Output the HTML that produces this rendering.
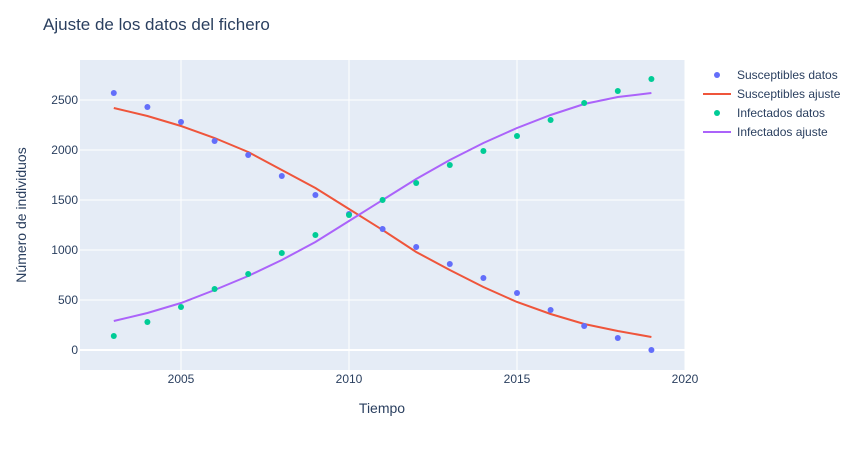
<!DOCTYPE html>
<html><head><meta charset="utf-8"><style>
body{margin:0;background:#fff;font-family:"Liberation Sans",Arial,sans-serif;}
svg text{font-family:"Liberation Sans",Arial,sans-serif;fill:#2a3f5f;}
</style></head><body>
<svg id="chart" width="863" height="450">
<rect x="80" y="60" width="605" height="310" fill="#e5ecf6"/>
<g id="grid"></g><g id="marks"></g><g id="axes"></g>
<text x="43" y="30" font-size="17">Ajuste de los datos del fichero</text>
<text x="382" y="413" font-size="14" text-anchor="middle">Tiempo</text>
<text transform="translate(26,215) rotate(-90)" font-size="14" text-anchor="middle">Número de individuos</text>
<g id="legend"></g>
</svg>
<script>
const years=[2003,2004,2005,2006,2007,2008,2009,2010,2011,2012,2013,2014,2015,2016,2017,2018,2019];
const susDatos=[2570,2430,2280,2090,1950,1740,1550,1360,1210,1030,860,720,570,400,240,120,0];
const susAjuste=[2420,2340,2240,2120,1980,1800,1620,1410,1200,980,800,630,480,360,260,190,130];
const infDatos=[140,280,430,610,760,970,1150,1350,1500,1670,1850,1990,2140,2300,2470,2590,2710];
const infAjuste=[290,370,470,600,740,900,1080,1290,1500,1710,1900,2070,2220,2350,2460,2530,2570];
const xTicks=[2005,2010,2015,2020];
const yTicks=[0,500,1000,1500,2000,2500];
const NS='http://www.w3.org/2000/svg';
function X(v){return 181+(v-2005)*33.6;}
function Y(v){return 350-v*0.1;}
function mk(t,a,p){const e=document.createElementNS(NS,t);for(const k in a)e.setAttribute(k,a[k]);p.appendChild(e);return e;}
const grid=document.getElementById('grid'),axes=document.getElementById('axes'),marks=document.getElementById('marks'),legend=document.getElementById('legend');
xTicks.forEach(v=>{
 const l=mk('line',{x1:X(v),x2:X(v),y1:60,y2:370,stroke:'#fff','stroke-width':1},grid);
 
 
 const t=mk('text',{x:X(v),y:383,'font-size':12,'text-anchor':'middle'},axes);t.textContent=v;
 
 
});
yTicks.forEach(v=>{
 const l=mk('line',{x1:80,x2:685,y1:Y(v),y2:Y(v),stroke:'#fff','stroke-width':v===0?2:1},grid);
 
 
 const t=mk('text',{x:78,y:Y(v)+4,'font-size':12,'text-anchor':'end'},axes);t.textContent=v;
 
 
});
function line(vals,color,name){
 const p=mk('path',{d:vals.map((v,i)=>(i?'L':'M')+X(years[i])+','+Y(v)).join(''),fill:'none',stroke:color,'stroke-width':2},marks);
 
 
}
function pts(vals,color,name){
 vals.forEach((v,i)=>{const c=mk('circle',{cx:X(years[i]),cy:Y(v),r:3,fill:color},marks);
 
 });
}
line(susAjuste,'#EF553B','susceptibles-ajuste-line');
line(infAjuste,'#ab63fa','infectados-ajuste-line');
pts(susDatos,'#636efa','susceptibles-point');
pts(infDatos,'#00cc96','infectados-point');
const items=[['Susceptibles datos','#636efa','p'],['Susceptibles ajuste','#EF553B','l'],['Infectados datos','#00cc96','p'],['Infectados ajuste','#ab63fa','l']];
items.forEach((it,i)=>{
 const y=75+i*19;
 const g=mk('g',{},legend);
 
 
 if(it[2]==='p')mk('circle',{cx:717,cy:y,r:3,fill:it[1]},g);
 else mk('line',{x1:703,x2:731,y1:y,y2:y,stroke:it[1],'stroke-width':2},g);
 const t=mk('text',{x:737,y:y+4,'font-size':12},g);t.textContent=it[0];
});
</script>
</body></html>
